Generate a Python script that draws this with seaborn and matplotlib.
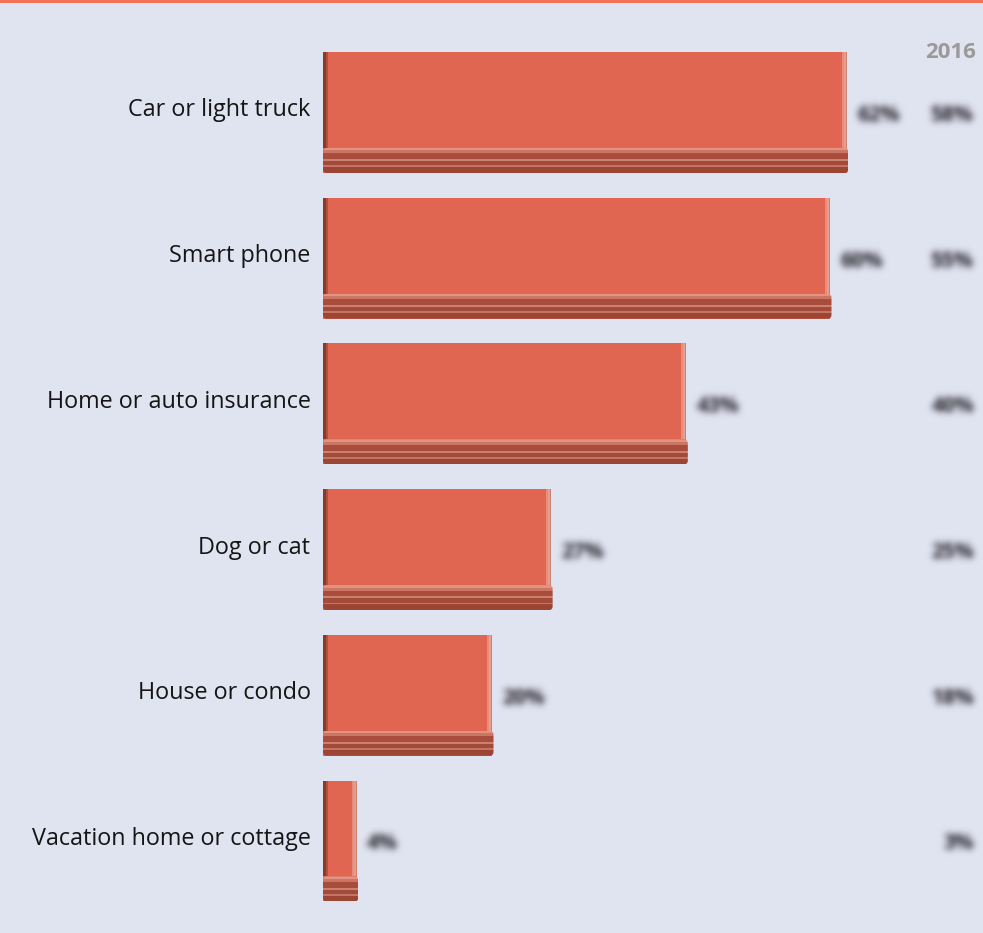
import numpy as np
import pandas as pd
import matplotlib
matplotlib.use("Agg")
import matplotlib.pyplot as plt
import seaborn as sns
from matplotlib.patches import Rectangle, FancyBboxPatch
from matplotlib.transforms import ScaledTranslation

# ---- data -------------------------------------------------------------
categories = [
    "Car or light truck",
    "Smart phone",
    "Home or auto insurance",
    "Dog or cat",
    "House or condo",
    "Vacation home or cottage",
]
share_now = [62, 60, 43, 27, 20, 4]      # current survey, % of respondents
share_2016 = [58, 55, 40, 25, 18, 3]     # comparison column
year_label = "2016"

# ---- style ------------------------------------------------------------
BG = "#E0E3F0"
FACE = "#E16651"
STRIPE = "#F5735B"
LABEL_GRAY = (0.42, 0.42, 0.46)
# bands of the slab under each bar: (start, end) as fraction of slab height
BASE_BANDS = [
    (0.00, 0.10, "#E29484"),
    (0.10, 0.22, "#CB7563"),
    (0.22, 0.45, "#A94C3B"),
    (0.45, 0.53, "#C98272"),
    (0.53, 0.70, "#A44A39"),
    (0.70, 0.77, "#C27565"),
    (0.77, 1.00, "#9D4534"),
]

W, H, DPI = 983, 933, 100
AX_LEFT_PX = 323
PX_PER_PCT = 8.45          # horizontal scale
PX_PER_ROW = 145.7         # vertical spacing between bars
FIRST_CENTER_PX = 112.5


def dx(px):
    return px / PX_PER_PCT


def dy(px):
    return px / PX_PER_ROW


def blur(sigma_px, rgb, gain=1.0):
    """agg filter: gaussian-blurred silhouette in a flat colour."""
    def _filter(img, dpi):
        pad = int(3 * sigma_px) + 1
        a = np.pad(img[:, :, 3], pad)
        t = np.arange(-pad, pad + 1)
        k = np.exp(-0.5 * (t / sigma_px) ** 2)
        k /= k.sum()
        a = np.apply_along_axis(lambda r: np.convolve(r, k, mode="same"), 0, a)
        a = np.apply_along_axis(lambda r: np.convolve(r, k, mode="same"), 1, a)
        out = np.empty(a.shape + (4,))
        out[..., :3] = rgb
        out[..., 3] = np.clip(a * gain, 0, 1)
        return out, -pad, -pad
    return _filter


sns.set_theme(style="white")
plt.rcParams["font.family"] = ["Open Sans", "DejaVu Sans"]

fig = plt.figure(figsize=(W / DPI, H / DPI), dpi=DPI, facecolor=BG)
ax = fig.add_axes([AX_LEFT_PX / W, 0, (W - AX_LEFT_PX) / W, 1])
ax.set_facecolor(BG)

df = pd.DataFrame({"item": categories, "share": share_now})
sns.barplot(data=df, y="item", x="share", orient="h", color=FACE,
            saturation=1, width=0.83, linewidth=0, ax=ax)

ax.set_xlim(0, (W - AX_LEFT_PX) / PX_PER_PCT)
ax.set_ylim(dy(H - FIRST_CENTER_PX), -dy(FIRST_CENTER_PX))
for s in ax.spines.values():
    s.set_visible(False)
ax.set_xticks([])
ax.set_xlabel("")
ax.set_ylabel("")
ax.tick_params(axis="y", length=0, pad=9, labelsize=16.8, labelcolor="#151515")
shift = ScaledTranslation(0, 5 / DPI, fig.dpi_scale_trans)
for lbl in ax.get_yticklabels():
    lbl.set_transform(lbl.get_transform() + shift)

# bevel: dark left edge, light right edge, striped slab underneath
bars = list(ax.patches)
for p, v, v16 in zip(bars, share_now, share_2016):
    x0, w = p.get_x(), p.get_width()
    y0, h = p.get_y(), p.get_height()
    face_h = h * 96 / 121
    base_top = y0 + face_h
    base_h = h - face_h

    ax.add_patch(Rectangle((x0, y0), dx(2.5), face_h, color="#8A3A2B", lw=0))
    ax.add_patch(Rectangle((x0 + dx(2.5), y0), dx(2), face_h, color="#B0503F", lw=0))
    ax.add_patch(Rectangle((w - dx(5), y0), dx(2), face_h, color="#EB8C7B", lw=0))
    ax.add_patch(Rectangle((w - dx(3), y0), dx(2), face_h, color="#E2A092", lw=0))
    ax.add_patch(Rectangle((w - dx(1), y0), dx(1), face_h, color="#CD7F70", lw=0))

    slab = FancyBboxPatch((x0, base_top), w + dx(1.5), base_h,
                          boxstyle=f"round,pad=0,rounding_size={dx(4)}",
                          mutation_aspect=PX_PER_PCT / PX_PER_ROW,
                          facecolor="none", edgecolor="none")
    ax.add_patch(slab)
    for f0, f1, c in BASE_BANDS:
        band = Rectangle((x0, base_top + base_h * f0), w + dx(1.5),
                         base_h * (f1 - f0), color=c, lw=0)
        ax.add_patch(band)
        band.set_clip_path(slab)

    # value labels, rendered soft
    yc = y0 + h / 2 + dy(3)
    t1 = ax.text(w + dx(10), yc, f"{v}%", ha="left", va="center",
                 fontsize=15, fontweight="bold", color=LABEL_GRAY)
    t1.set_agg_filter(blur(3.4, LABEL_GRAY, gain=1.7))
    t2 = ax.text((974 - AX_LEFT_PX) / (W - AX_LEFT_PX), yc, f"{v16}%",
                 transform=ax.get_yaxis_transform(), ha="right", va="center",
                 fontsize=15, fontweight="bold", color=LABEL_GRAY)
    t2.set_agg_filter(blur(3.4, LABEL_GRAY, gain=1.7))

fig.text(976 / W, 1 - 52 / H, year_label, ha="right", va="center",
         fontsize=16, fontweight="bold", color="#9A9A9A")
fig.add_artist(Rectangle((0, 1 - 3 / H), 1, 3 / H, transform=fig.transFigure,
                         color=STRIPE, lw=0))

fig.savefig("out.png", dpi=DPI, facecolor=BG)
